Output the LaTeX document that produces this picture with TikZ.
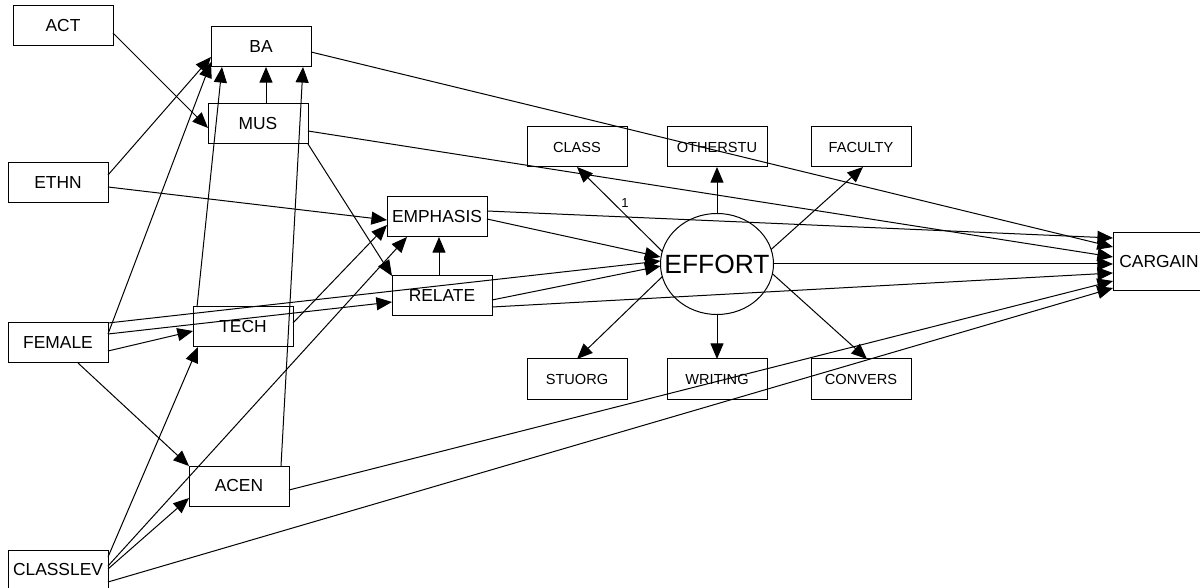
\documentclass[tikz,border=0pt]{standalone}
\usepackage{fontspec}
\setmainfont{Liberation Sans}
\usetikzlibrary{arrows.meta,calc,shapes.geometric}

\begin{document}
\begin{tikzpicture}[x=0.5pt,y=0.5pt,yscale=-1,xscale=1,
  box/.style={draw, line width=0.5pt, minimum width=50pt, minimum height=20pt, inner sep=0pt, outer sep=0pt, font=\fontsize{8.7}{10}\selectfont},
  sbox/.style={box, font=\fontsize{7.3}{9}\selectfont},
  latent/.style={ellipse, draw, line width=0.5pt, minimum width=56.5pt, minimum height=50.5pt, inner sep=0pt, outer sep=0pt},
  arr/.style={line width=0.5pt, -{Triangle[length=7.8pt,width=6.5pt]}}]
%set diagram left start at 0, and has height of 588
\useasboundingbox (0,0) rectangle (1200,588);

% Text Node
\node [box] (ACT) at (63,26) {ACT};
% Text Node
\node [box] (BA) at (261,47) {BA};
% Text Node
\node [box] (MUS) at (258,124) {MUS};
% Text Node
\node [box] (ETHN) at (58,183) {ETHN};
% Text Node
\node [box] (FEMALE) at (58,343) {FEMALE};
% Text Node
\node [box] (TECH) at (243,327) {TECH};
% Text Node
\node [box] (ACEN) at (239,486) {ACEN};
% Text Node
\node [box] (CLASSLEV) at (58,570) {CLASSLEV};
% Text Node
\node [box] (EMPHASIS) at (437,217) {EMPHASIS};
% Text Node
\node [box] (RELATE) at (442,296) {RELATE};
% Text Node
\node [sbox] (CLASS) at (577,147) {CLASS};
% Text Node
\node [sbox] (OTHERSTU) at (717,147) {OTHERSTU};
% Text Node
\node [sbox] (FACULTY) at (861,147) {FACULTY};
% Text Node
\node [sbox] (STUORG) at (577,379) {STUORG};
% Text Node
\node [sbox] (WRITING) at (717,379) {WRITING};
% Text Node
\node [sbox] (CONVERS) at (861,379) {CONVERS};
% Text Node
\node [box, minimum width=46pt, minimum height=29pt] (CARGAIN) at (1159,262) {CARGAIN};
%Shape: Ellipse
\node [latent, label={[font=\fontsize{13.2}{15}\selectfont]center:EFFORT}] (EFFORT) at (717,264) {};
% Text Node
\node [font=\fontsize{6.5}{7}\selectfont] (one) at (625,203) {1};

%Straight Lines: exogenous paths
\draw [arr] ($(ACT.east)+(0,7)$) -- ($(MUS.west)+(0,4)$);
\draw [arr] ($(ETHN.east)+(0,-8)$) -- ($(BA.west)+(0,10)$);
\draw [arr] ($(FEMALE.east)+(0,-9)$) -- ($(BA.west)+(0,15)$);
\draw [arr] ($(TECH.north)+(-46,0)$) -- ($(BA.south)+(-39,0)$);
\draw [arr] ($(MUS.north)+(8,0)$) -- ($(BA.south)+(5,0)$);
\draw [arr] ($(ACEN.north)+(42,0)$) -- ($(BA.south)+(42,0)$);
\draw [arr] ($(ETHN.east)+(0,4)$) -- ($(EMPHASIS.west)+(0,3)$);
\draw [arr] (MUS.south east) -- (RELATE.north west);
\draw [arr] ($(FEMALE.east)+(0,8)$) -- ($(TECH.west)+(0,4)$);
\draw [arr] ($(FEMALE.east)+(0,-9)$) -- ($(RELATE.west)+(0,6)$);
\draw [arr] ($(FEMALE.south)+(20,0)$) -- (ACEN.north west);
\draw [arr] ($(TECH.east)+(0,-4)$) -- ($(EMPHASIS.west)+(0,8)$);
\draw [arr] ($(CLASSLEV.east)+(0,-13)$) -- ($(TECH.south west)+(5,0)$);
\draw [arr] ($(CLASSLEV.east)+(0,-4)$) -- ($(EMPHASIS.south west)+(20,0)$);
\draw [arr] ($(CLASSLEV.east)+(0,-1)$) -- ($(ACEN.west)+(0,12)$);
\draw [arr] ($(RELATE.north)+(-3,0)$) -- ($(EMPHASIS.south)+(2,0)$);

%Straight Lines: into EFFORT
\draw [arr] (FEMALE.north east) -- ($(EFFORT.west)+(0,-3)$);
\draw [arr] ($(EMPHASIS.east)+(0,2)$) -- ($(EFFORT.west)+(0,-7)$);
\draw [arr] ($(RELATE.east)+(0,4)$) -- ($(EFFORT.west)+(0,2)$);

%Straight Lines: indicators
\draw [arr] (EFFORT.167) -- (CLASS.south);
\draw [arr] (EFFORT.north) -- (EFFORT.north |- OTHERSTU.south);
\draw [arr] (EFFORT.15) -- ($(FACULTY.south)+(2,0)$);
\draw [arr] (EFFORT.193) -- (STUORG.north);
\draw [arr] (EFFORT.south) -- (EFFORT.south |- WRITING.north);
\draw [arr] (EFFORT.350) -- ($(CONVERS.north)+(6,0)$);

%Straight Lines: into CARGAIN
\draw [arr] ($(BA.east)+(0,5)$) -- ($(CARGAIN.west)+(0,-15)$);
\draw [arr] ($(MUS.east)+(0,7)$) -- ($(CARGAIN.west)+(0,-5)$);
\draw [arr] ($(EMPHASIS.east)+(0,-6)$) -- ($(CARGAIN.west)+(0,-24)$);
\draw [arr] (EFFORT.east) -- (EFFORT.east -| CARGAIN.west);
\draw [arr] ($(RELATE.east)+(0,11)$) -- ($(CARGAIN.west)+(0,11)$);
\draw [arr] ($(ACEN.east)+(0,4)$) -- ($(CARGAIN.west)+(0,19)$);
\draw [arr] ($(CLASSLEV.east)+(0,12)$) -- ($(CARGAIN.west)+(0,26)$);

\end{tikzpicture}
\end{document}
